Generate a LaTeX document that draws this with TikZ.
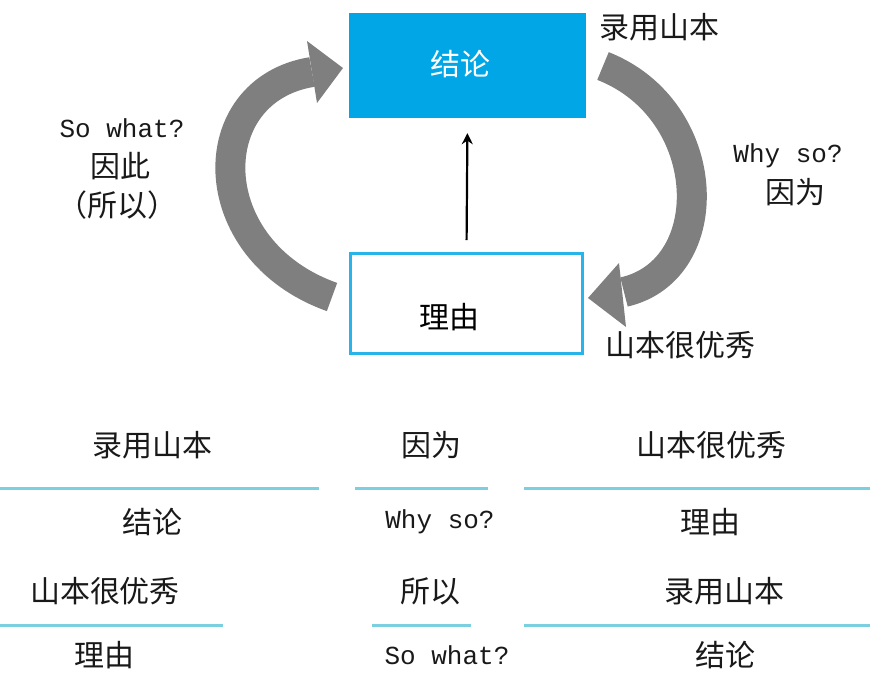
\documentclass[tikz,border=0pt]{standalone}
\usepackage{fontspec}
\setmainfont{Noto Sans CJK SC}
\newfontfamily\latmono{Liberation Mono}
\usetikzlibrary{arrows.meta}
\definecolor{cblue}{RGB}{0,166,230}
\definecolor{lblue}{RGB}{40,180,232}
\definecolor{tblue}{RGB}{124,207,224}
\definecolor{agray}{RGB}{127,127,127}
\tikzset{
  cjk/.style={inner sep=0pt, font=\fontsize{30}{34}\selectfont, text=black!90},
  lat/.style={inner sep=0pt, font=\latmono\fontsize{26}{30}\selectfont, text=black!90},
  tline/.style={draw=tblue, line width=3pt},
  band/.style={draw=agray, line width=30pt},
  ahead/.style={fill=agray, draw=none}
}
\begin{document}
\begin{tikzpicture}[x=1pt,y=-1pt]
\useasboundingbox (0,0) rectangle (870,689);
% boxes
\node[fill=cblue, draw=none, minimum width=237pt, minimum height=105pt, inner sep=0pt] (concl) at (467.5,65.5) {};
\node[draw=lblue, line width=3pt, fill=white, minimum width=232pt, minimum height=100pt, inner sep=0pt] (reason) at (466.5,303.5) {};
\node[cjk, text=white] (conclt) at (460,64) {结论};
\node[cjk, text=black] (reasont) at (449,317) {理由};
% vertical arrow
\draw[line width=2.2pt, -{Stealth[length=11pt,width=11pt]}, shorten <=12pt, shorten >=15pt] (reason.north) -- (concl.south);
% left gray arrow
\coordinate (lt) at (332,297);
\coordinate (le) at (312,72);
\draw[band] (lt) .. controls (200,250) and (200,90) .. (le);
\fill[ahead] (307,41) -- (343,68) -- (317,103) -- cycle;
% right gray arrow
\coordinate (rt) at (603,66);
\coordinate (re) at (624,292);
\draw[band] (rt) .. controls (715,110) and (720,270) .. (re);
\fill[ahead] (619,263) -- (588,298) -- (626,327) -- cycle;
% cycle labels
\node[cjk] (l1) at (659,27) {录用山本};
\node[lat] (l2) at (788,156) {Why so?};
\node[cjk] (l3) at (795,192) {因为};
\node[cjk] (l4) at (680,345) {山本很优秀};
\node[lat] (l5) at (122,128) {So what?};
\node[cjk] (l6) at (120,166) {因此};
\node[cjk] (l7) at (117,205) {（所以）};
% table
\node[cjk] (a1) at (152,445) {录用山本};
\node[cjk] (a2) at (431,445) {因为};
\node[cjk] (a3) at (711,445) {山本很优秀};
\coordinate (s1a) at (0,488); \coordinate (s1b) at (319,488);
\coordinate (s2a) at (355,488); \coordinate (s2b) at (488,488);
\coordinate (s3a) at (524,488); \coordinate (s3b) at (870,488);
\draw[tline] (s1a) -- (s1b);
\draw[tline] (s2a) -- (s2b);
\draw[tline] (s3a) -- (s3b);
\node[cjk] (b1) at (152,522) {结论};
\node[lat] (b2) at (440,522) {Why so?};
\node[cjk] (b3) at (710,522) {理由};
\node[cjk] (c1) at (105,591) {山本很优秀};
\node[cjk] (c2) at (430,591) {所以};
\node[cjk] (c3) at (724,591) {录用山本};
\coordinate (t1a) at (0,625); \coordinate (t1b) at (223,625);
\coordinate (t2a) at (372,625); \coordinate (t2b) at (471,625);
\coordinate (t3a) at (524,625); \coordinate (t3b) at (870,625);
\draw[tline] (t1a) -- (t1b);
\draw[tline] (t2a) -- (t2b);
\draw[tline] (t3a) -- (t3b);
\node[cjk] (d1) at (104,655) {理由};
\node[lat] (d2) at (447,655) {So what?};
\node[cjk] (d3) at (725,655) {结论};
\end{tikzpicture}
\end{document}
